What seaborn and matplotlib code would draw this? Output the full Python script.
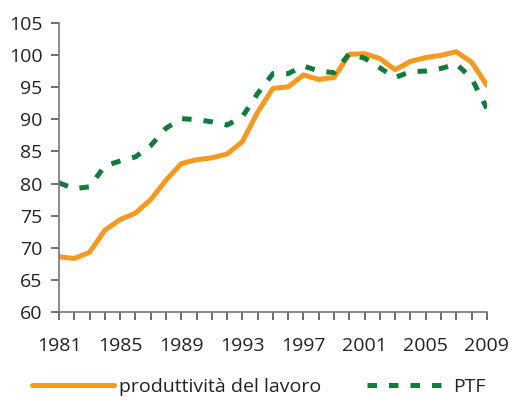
import pandas as pd
import numpy as np
import matplotlib
matplotlib.use("Agg")
import matplotlib.pyplot as plt
import seaborn as sns

anni = list(range(1981, 2010))
produttivita = [68.6, 68.35, 69.3, 72.75, 74.4, 75.4, 77.5, 80.5, 83.1, 83.7,
                84.0, 84.6, 86.5, 91.1, 94.8, 95.05, 96.9, 96.2, 96.5, 100.1,
                100.2, 99.45, 97.7, 99.0, 99.6, 99.95, 100.5, 98.9, 95.3]
ptf = [80.1, 79.2, 79.5, 82.75, 83.5, 84.15, 85.9, 88.6, 90.1, 89.95,
       89.6, 89.1, 90.4, 94.0, 97.1, 97.1, 98.3, 97.5, 97.25, 100.2,
       99.5, 98.0, 96.5, 97.4, 97.5, 97.9, 98.6, 96.4, 91.7]
xtick_labels = [1981, 1985, 1989, 1993, 1997, 2001, 2005, 2009]

sns.set_style("ticks")
plt.rcParams['font.family'] = ['Open Sans', 'DejaVu Sans']

df = pd.DataFrame({"anno": anni, "prod": produttivita, "ptf": ptf})

fig = plt.figure(figsize=(5.13, 4.08), dpi=100)
ax = fig.add_axes([0.115, 0.235, 0.834, 0.709])

arancio = "#F7991F"
verde = "#137A3D"

sns.lineplot(data=df, x="anno", y="prod", ax=ax, color=arancio, linewidth=3.6,
             label="produttività del lavoro", legend=False,
             solid_joinstyle="round", solid_capstyle="round")
l2 = sns.lineplot(data=df, x="anno", y="ptf", ax=ax, color=verde, linewidth=3.6,
                  label="PTF", legend=False).lines[-1]
l2.set_dashes((1.9, 2.4))
l2.set_dash_capstyle("butt")

ax.set_xlim(1981, 2009)
ax.set_ylim(60, 105)
ax.set_yticks(np.arange(60, 106, 5))
ax.set_xticks(anni, minor=False)
ax.set_xticklabels([str(a) if a in xtick_labels else "" for a in anni])
ax.set_xlabel("")
ax.set_ylabel("")

for s in ["top", "right"]:
    ax.spines[s].set_visible(False)
for s in ["left", "bottom"]:
    ax.spines[s].set_color("#777777")
    ax.spines[s].set_linewidth(1.2)

ax.tick_params(axis="both", colors="#555555", labelcolor="#222222",
               labelsize=14, length=6, width=1.2, direction="out")
ax.tick_params(axis="x", pad=12)
ax.tick_params(axis="y", pad=6)

h, l = ax.get_legend_handles_labels()
fig.legend(h, l, loc="center", bbox_to_anchor=(0.505, 0.051), ncol=2,
           frameon=False, fontsize=14, handlelength=4.2, handletextpad=0.25,
           columnspacing=2.35, labelcolor="#222222")

fig.savefig("out.png", dpi=100)
